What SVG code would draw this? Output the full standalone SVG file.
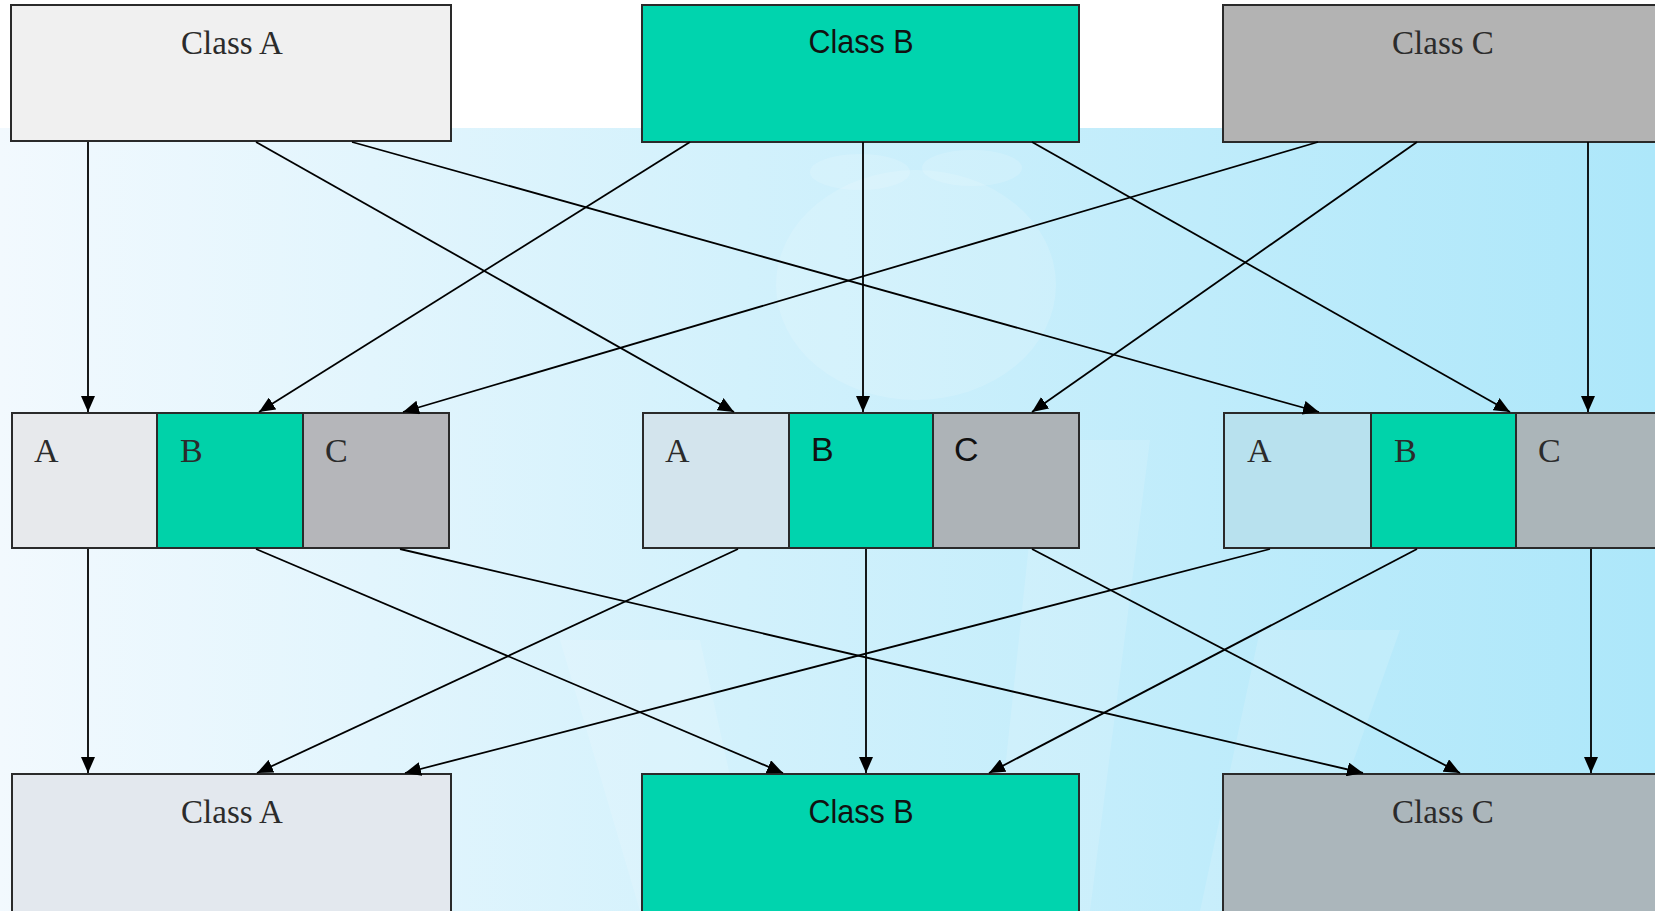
<svg xmlns="http://www.w3.org/2000/svg" width="1655" height="911" viewBox="0 0 1655 911">
<style>
.box{stroke:#2a2a2a;stroke-width:2}
.serif{font-family:"Liberation Serif","Times New Roman",serif;font-size:33px;fill:#2b2b2b}
.sans{font-family:"Liberation Sans",Arial,sans-serif;font-size:33px;fill:#111}
.mid{font-size:34px}
.conn line{stroke:#000;stroke-width:1.8;marker-end:url(#arr)}
.wm{fill:#ffffff;opacity:0.14}
</style>
<defs>
<linearGradient id="bg" x1="0" y1="0" x2="1" y2="0">
<stop offset="0" stop-color="#f2f9fe"/>
<stop offset="0.45" stop-color="#d2f1fc"/>
<stop offset="1" stop-color="#ade7fa"/>
</linearGradient>
<marker id="arr" viewBox="0 0 16 14" refX="16" refY="7" markerWidth="16" markerHeight="14" markerUnits="userSpaceOnUse" orient="auto">
<path d="M0,0 L16,7 L0,14 z" fill="#000"/>
</marker>
</defs>
<rect x="0" y="0" width="1655" height="911" fill="#ffffff"/>
<rect x="0" y="128" width="1655" height="783" fill="url(#bg)"/>
<g id="watermark">
<ellipse class="wm" cx="916" cy="285" rx="140" ry="115"/>
<ellipse class="wm" cx="860" cy="172" rx="50" ry="18"/>
<ellipse class="wm" cx="972" cy="168" rx="50" ry="18"/>
<path class="wm" d="M560,640 L700,640 L760,911 L640,911 Z"/>
<path class="wm" d="M1040,440 L1150,440 L1090,911 L990,911 Z"/>
<path class="wm" d="M1260,630 L1400,630 L1300,911 L1200,911 Z"/>
</g>
<g id="top-class-a">
<rect class="box" x="11" y="5" width="440" height="136" fill="#f0f0f0" stroke="#444"/>
<text class="serif" x="232" y="54" text-anchor="middle">Class A</text>
</g>
<g id="top-class-b">
<rect class="box" x="642" y="5" width="437" height="137" fill="#00d4ae"/>
<text class="sans" x="861" y="53" text-anchor="middle" textLength="105" lengthAdjust="spacingAndGlyphs">Class B</text>
</g>
<g id="top-class-c">
<rect class="box" x="1223" y="5" width="440" height="137" fill="#b3b3b3"/>
<text class="serif" x="1443" y="54" text-anchor="middle">Class C</text>
</g>
<g id="mid-left">
<rect class="box" x="12" y="413" width="145" height="135" fill="#e7e9ec" stroke="#444"/>
<rect class="box" x="157" y="413" width="146" height="135" fill="#00d2a9"/>
<rect class="box" x="303" y="413" width="146" height="135" fill="#b5b6ba" stroke="#444"/>
<text class="serif mid" x="34" y="462">A</text>
<text class="serif mid" x="180" y="462">B</text>
<text class="serif mid" x="325" y="462">C</text>
</g>
<g id="mid-center">
<rect class="box" x="643" y="413" width="146" height="135" fill="#d3e4ed" stroke="#444"/>
<rect class="box" x="789" y="413" width="144" height="135" fill="#00d4ae"/>
<rect class="box" x="933" y="413" width="146" height="135" fill="#adb3b7"/>
<text class="serif mid" x="665" y="462">A</text>
<text class="sans mid" x="811" y="461">B</text>
<text class="sans mid" x="954" y="461">C</text>
</g>
<g id="mid-right">
<rect class="box" x="1224" y="413" width="147" height="135" fill="#b8e1ee"/>
<rect class="box" x="1371" y="413" width="145" height="135" fill="#00d3aa"/>
<rect class="box" x="1516" y="413" width="146" height="135" fill="#abb5b9"/>
<text class="serif mid" x="1247" y="462">A</text>
<text class="serif mid" x="1394" y="462">B</text>
<text class="serif mid" x="1538" y="462">C</text>
</g>
<g id="bottom-class-a">
<rect class="box" x="12" y="774" width="439" height="145" fill="#e3e8ee" stroke="#444"/>
<text class="serif" x="232" y="823" text-anchor="middle">Class A</text>
</g>
<g id="bottom-class-b">
<rect class="box" x="642" y="774" width="437" height="145" fill="#00d4ae"/>
<text class="sans" x="861" y="823" text-anchor="middle" textLength="105" lengthAdjust="spacingAndGlyphs">Class B</text>
</g>
<g id="bottom-class-c">
<rect class="box" x="1223" y="774" width="440" height="145" fill="#abb6bb" stroke="#333"/>
<text class="serif" x="1443" y="823" text-anchor="middle">Class C</text>
</g>
<g id="connectors" class="conn">
<line x1="88" y1="142" x2="88" y2="412"/>
<line x1="256" y1="142" x2="734" y2="412"/>
<line x1="352" y1="142" x2="1319" y2="412"/>
<line x1="690" y1="142" x2="259" y2="412"/>
<line x1="863" y1="142" x2="863" y2="412"/>
<line x1="1032" y1="142" x2="1510" y2="412"/>
<line x1="1318" y1="142" x2="403" y2="412"/>
<line x1="1417" y1="142" x2="1032" y2="412"/>
<line x1="1588" y1="142" x2="1588" y2="412"/>
<line x1="88" y1="549" x2="88" y2="773"/>
<line x1="256" y1="549" x2="783" y2="773"/>
<line x1="400" y1="549" x2="1363" y2="773"/>
<line x1="738" y1="549" x2="257" y2="773"/>
<line x1="866" y1="549" x2="866" y2="773"/>
<line x1="1032" y1="549" x2="1460" y2="773"/>
<line x1="1270" y1="549" x2="405" y2="773"/>
<line x1="1417" y1="549" x2="989" y2="773"/>
<line x1="1591" y1="549" x2="1591" y2="773"/>
</g>
</svg>
